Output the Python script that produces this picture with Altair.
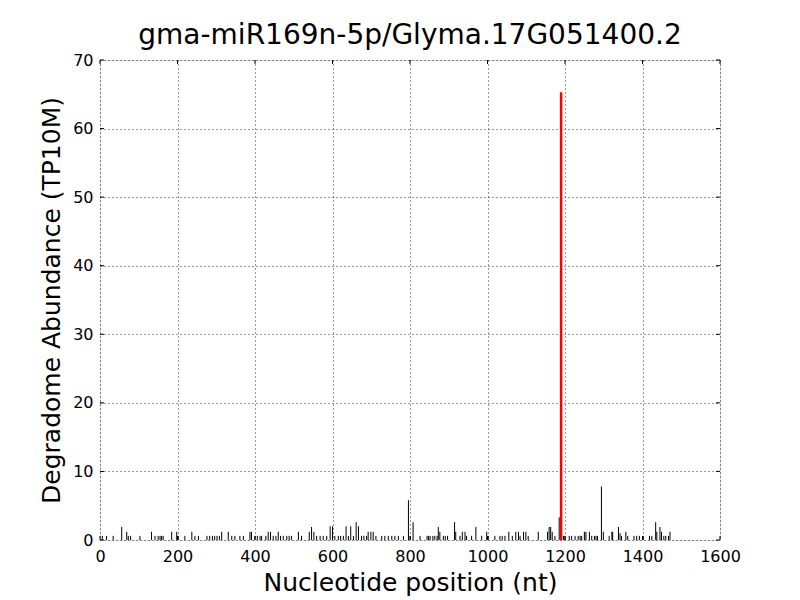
import altair as alt
import pandas as pd

title_text = "gma-miR169n-5p/Glyma.17G051400.2"
x_title = "Nucleotide position (nt)"
y_title = "Degradome Abundance (TP10M)"

positions = [
    6, 17, 34, 56, 69, 73, 79, 103, 133, 142, 150, 155, 159, 163, 185, 198, 202, 219, 237, 245,
    254, 276, 283, 290, 296, 302, 308, 314, 331, 340, 348, 361, 370, 387,
    391, 400, 406, 413, 417, 428, 434, 440, 447, 454, 460, 466, 473, 482, 488, 494, 512, 520,
    540, 546, 552, 559, 568, 576, 585, 594, 600, 606, 615, 621, 628, 635, 641, 647, 654, 661,
    667, 675, 681, 688, 692, 699, 705, 712, 727, 735, 744, 753, 761, 770, 783, 796,
    801, 808, 826, 844, 848, 852, 859, 864, 870, 873, 877, 886, 891, 897, 915, 918, 929, 935,
    942, 946, 959, 970, 985, 998, 1002, 1019, 1032, 1038, 1045, 1055, 1064, 1073, 1080, 1084,
    1093, 1099, 1105, 1131, 1155, 1159, 1163, 1167, 1174, 1185, 1196,
    1200, 1211, 1217, 1226, 1234, 1239, 1243, 1250, 1254, 1263, 1269, 1276, 1280, 1284, 1294,
    1299, 1314, 1321, 1323, 1338, 1342, 1346, 1357, 1362, 1378, 1385, 1392, 1402, 1418, 1424,
    1434, 1437, 1445, 1449, 1455, 1460, 1467, 1471,
]
abundance = [
    0.6, 0.6, 0.6, 1.9, 1.2, 0.6, 0.6, 0.6, 1.2, 0.6, 0.6, 0.6, 0.6, 0.6, 1.2, 1.2, 0.6, 0.6, 1.2, 0.6,
    0.6, 0.6, 0.6, 0.6, 0.6, 0.6, 0.6, 1.2, 1.2, 0.6, 0.6, 0.6, 0.6, 1.2,
    1.2, 0.6, 0.6, 0.6, 0.6, 0.6, 1.2, 1.2, 0.6, 0.6, 1.2, 0.6, 0.6, 0.6, 0.6, 0.6, 1.2, 0.6,
    1.2, 1.9, 1.2, 0.6, 0.6, 0.6, 0.6, 2.0, 2.0, 0.6, 0.6, 0.6, 0.6, 2.0, 0.6, 2.0, 0.6, 2.6,
    2.0, 0.6, 0.6, 0.6, 1.2, 1.2, 1.2, 0.6, 0.6, 0.6, 0.6, 0.6, 0.6, 0.6, 0.6, 5.8,
    0.6, 2.6, 0.6, 0.6, 0.6, 0.6, 0.6, 0.6, 0.6, 1.9, 1.2, 0.6, 0.6, 0.6, 2.6, 1.2, 0.6, 1.2,
    1.2, 0.6, 0.6, 1.9, 0.6, 1.2, 0.6, 0.6, 0.6, 0.6, 0.6, 1.2, 0.6, 1.2, 1.2, 0.6,
    1.2, 1.2, 0.6, 1.2, 1.2, 1.9, 1.9, 1.2, 0.6, 3.3, 0.6,
    0.6, 0.6, 0.6, 0.6, 0.6, 0.6, 0.6, 1.2, 1.2, 1.2, 0.6, 0.6, 0.6, 0.6, 7.8,
    1.2, 0.6, 1.2, 1.2, 1.9, 1.0, 0.6, 1.2, 0.6, 0.6, 0.6, 0.6, 0.6, 0.6, 0.6,
    2.6, 1.2, 1.9, 1.2, 0.6, 0.6, 0.6, 1.2,
]
target_position = [1190]
target_abundance = [65.3]

x_ticks = [0, 200, 400, 600, 800, 1000, 1200, 1400, 1600]
y_ticks = [0, 10, 20, 30, 40, 50, 60, 70]

W, H = 620, 480
FONT = "DejaVu Sans"

df = pd.DataFrame({"pos": positions, "val": abundance})
df_t = pd.DataFrame({"pos": target_position, "val": target_abundance})
df_xt = pd.DataFrame({"t": x_ticks})
df_yt = pd.DataFrame({"t": y_ticks})

xscale = alt.Scale(domain=[0, 1600], nice=False, zero=False)
yscale = alt.Scale(domain=[0, 70], nice=False)

x_axis = alt.Axis(values=x_ticks, title=x_title, grid=True, gridDash=[1, 3], gridColor="black",
                  gridWidth=0.8, tickSize=0, labelPadding=8, domain=False, labelFontSize=16,
                  titleFontSize=25, titleFontWeight="normal", titlePadding=6, labelColor="black",
                  titleColor="black", labelFont=FONT, titleFont=FONT, format="d", labelFlush=False)
y_axis = alt.Axis(values=y_ticks, title=y_title, grid=True, gridDash=[1, 3], gridColor="black",
                  gridWidth=0.8, tickSize=0, labelPadding=7, domain=False, labelFontSize=16,
                  titleFontSize=25, titleFontWeight="normal", titlePadding=8, labelColor="black",
                  titleColor="black", labelFont=FONT, titleFont=FONT, format="d", labelFlush=False)

bars = alt.Chart(df).mark_rule(color="black", strokeWidth=1).encode(
    x=alt.X("pos:Q", scale=xscale, axis=x_axis),
    y=alt.Y("val:Q", scale=yscale, axis=y_axis),
    y2=alt.datum(0),
)
target = alt.Chart(df_t).mark_rule(color="red", strokeWidth=2.5).encode(
    x=alt.X("pos:Q", scale=xscale),
    y=alt.Y("val:Q", scale=yscale),
    y2=alt.datum(0),
)

tb = alt.Chart(df_xt).mark_rule(color="black", strokeWidth=1).encode(
    x=alt.X("t:Q", scale=xscale), y=alt.value(H), y2=alt.value(H - 4))
tt = alt.Chart(df_xt).mark_rule(color="black", strokeWidth=1).encode(
    x=alt.X("t:Q", scale=xscale), y=alt.value(0), y2=alt.value(4))
tl = alt.Chart(df_yt).mark_rule(color="black", strokeWidth=1).encode(
    y=alt.Y("t:Q", scale=yscale), x=alt.value(0), x2=alt.value(4))
tr = alt.Chart(df_yt).mark_rule(color="black", strokeWidth=1).encode(
    y=alt.Y("t:Q", scale=yscale), x=alt.value(W), x2=alt.value(W - 4))

chart = alt.layer(bars, target, tb, tt, tl, tr).properties(
    width=W, height=H,
    title=alt.TitleParams(title_text, fontSize=28, font=FONT, fontWeight="normal",
                          color="black", offset=2, anchor="middle"),
    autosize=alt.AutoSizeParams(type="none"),
    padding={"left": 92, "top": 52, "right": 72, "bottom": 60},
).configure_view(stroke="black", strokeWidth=1).configure(background="white")

chart.save("out.html", embed_options={"renderer": "svg", "actions": False})
